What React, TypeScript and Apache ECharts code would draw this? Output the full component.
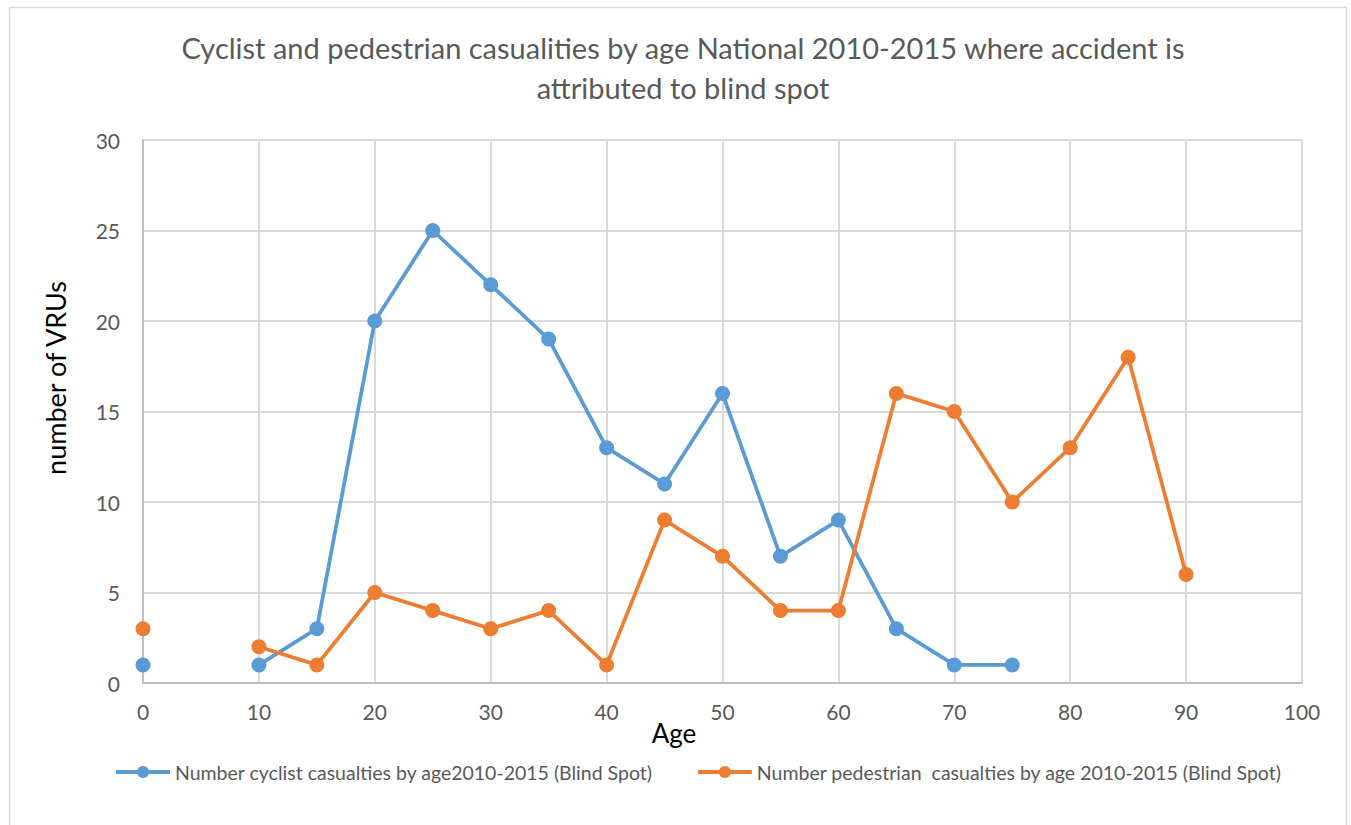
import React, { useEffect, useRef } from "react";
import * as echarts from "echarts";

const ages = [0, 5, 10, 15, 20, 25, 30, 35, 40, 45, 50, 55, 60, 65, 70, 75, 80, 85, 90];
const cyclist = [1, null, 1, 3, 20, 25, 22, 19, 13, 11, 16, 7, 9, 3, 1, 1, null, null, null];
const pedestrian = [3, null, 2, 1, 5, 4, 3, 4, 1, 9, 7, 4, 4, 16, 15, 10, 13, 18, 6];
const cyclistName = "Number cyclist casualties by age2010-2015 (Blind Spot)";
const pedestrianName = "Number pedestrian  casualties by age 2010-2015 (Blind Spot)";
const titleText = "Cyclist and pedestrian casualities by age National 2010-2015 where accident is\nattributed to blind spot";
const xAxisName = "Age";
const yAxisName = "number of VRUs";

const FONT = "Lato, 'Open Sans', sans-serif";

function toPairs(vals: (number | null)[]) {
  // trailing nulls are dropped, inner nulls become gaps
  let last = vals.length - 1;
  while (last >= 0 && vals[last] === null) last--;
  const out: any[] = [];
  for (let i = 0; i <= last; i++) {
    const v = vals[i];
    out.push([ages[i], v === null ? "-" : v]);
  }
  return out;
}

export default function App() {
  const ref = useRef<HTMLDivElement>(null);
  useEffect(() => {
    document.body.style.margin = "0";
    const chart = echarts.init(ref.current!, undefined, { renderer: "svg" });
    chart.setOption({
      animation: false,
      backgroundColor: "#ffffff",
      title: {
        text: titleText,
        left: 678,
        top: 22,
        textAlign: "center",
        textStyle: { fontFamily: FONT, fontSize: 29, fontWeight: "normal", color: "#595959", lineHeight: 40 },
      },
      graphic: [
        {
          type: "rect",
          shape: { x: 9.5, y: 7.5, width: 1337, height: 840 },
          style: { fill: "none", stroke: "#d9d9d9", lineWidth: 1.5 },
          silent: true,
          z: -1,
        },
        {
          type: "text",
          x: 55,
          y: 378,
          rotation: Math.PI / 2,
          style: {
            text: yAxisName,
            fontFamily: FONT,
            fontSize: 27,
            fill: "#000000",
            align: "center",
            verticalAlign: "middle",
          },
        },
        {
          type: "text",
          x: 674,
          y: 733,
          style: {
            text: xAxisName,
            fontFamily: FONT,
            fontSize: 26,
            fill: "#000000",
            align: "center",
            verticalAlign: "middle",
          },
        },
      ],
      grid: { left: 143, right: 49, top: 140, bottom: 142, containLabel: false },
      legend: {
        top: 757,
        left: 109,
        itemWidth: 54,
        itemHeight: 15,
        itemGap: 43,
        lineStyle: { width: 4 },
        textStyle: { fontFamily: FONT, fontSize: 19.5, color: "#595959" },
        data: [cyclistName, pedestrianName],
      },
      xAxis: {
        type: "value",
        min: 0,
        max: 100,
        interval: 10,
        axisLine: { show: true, lineStyle: { color: "#bfbfbf", width: 2 } },
        axisTick: { show: false },
        axisLabel: { fontFamily: FONT, fontSize: 21, color: "#595959", margin: 18 },
        splitLine: { show: true, lineStyle: { color: "#d9d9d9", width: 2 } },
      },
      yAxis: {
        type: "value",
        min: 0,
        max: 30,
        interval: 5,
        axisLine: { show: true, lineStyle: { color: "#bfbfbf", width: 2 } },
        axisTick: { show: false },
        axisLabel: { fontFamily: FONT, fontSize: 21, color: "#595959", margin: 23 },
        splitLine: { show: true, lineStyle: { color: "#d9d9d9", width: 2 } },
      },
      series: [
        {
          name: cyclistName,
          type: "line",
          data: toPairs(cyclist),
          connectNulls: false,
          symbol: "circle",
          symbolSize: 15,
          color: "#5B9BD5",
          lineStyle: { width: 3.75, color: "#5B9BD5" },
          itemStyle: { color: "#5B9BD5" },
        },
        {
          name: pedestrianName,
          type: "line",
          data: toPairs(pedestrian),
          connectNulls: false,
          symbol: "circle",
          symbolSize: 15,
          color: "#ED7D31",
          lineStyle: { width: 3.75, color: "#ED7D31" },
          itemStyle: { color: "#ED7D31" },
        },
      ],
    });
    return () => chart.dispose();
  }, []);
  return <div ref={ref} style={{ width: 1351, height: 825 }} />;
}
